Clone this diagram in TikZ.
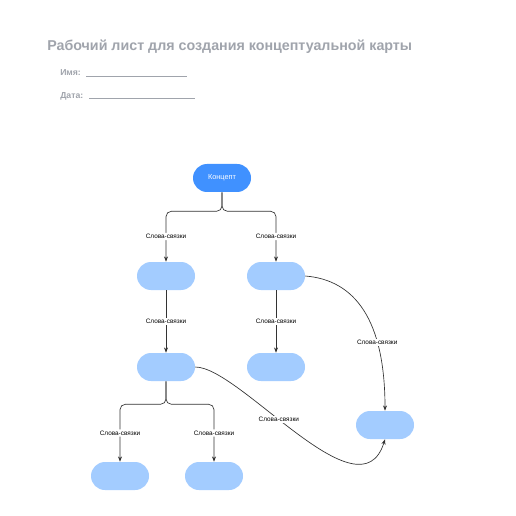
\documentclass[tikz,border=0pt]{standalone}
\usepackage{fontspec}
\setmainfont{Liberation Sans}
\usetikzlibrary{arrows.meta}
\definecolor{cmblue}{RGB}{64,145,255}
\definecolor{cmlight}{RGB}{163,204,255}
\definecolor{cmgray}{RGB}{160,164,172}
\definecolor{cmline}{RGB}{51,51,51}

\tikzset{
  concept/.style={fill=cmblue, rounded corners=10.5pt, minimum width=43.5pt, minimum height=21pt, text=white, font=\fontsize{5.5}{6}\selectfont},
  idea/.style={fill=cmlight, rounded corners=10.5pt, minimum width=43.5pt, minimum height=21pt},
  link/.style={draw=cmline, line width=0.5pt, -{Stealth[length=4pt,width=3pt]}},
  linkword/.style={fill=white, inner sep=1pt, font=\fontsize{4.8}{5}\selectfont}
}

\begin{document}
\begin{tikzpicture}[x=0.75pt, y=-0.75pt]
\useasboundingbox[fill=white] (0,0) rectangle (516,516); %Page
% Header
\node[anchor=west, text=cmgray, font=\bfseries\fontsize{10.7}{12}\selectfont, inner sep=0pt] (title) at (47,47) {Рабочий лист для создания концептуальной карты};
\node[anchor=west, text=cmgray, font=\bfseries\fontsize{6.5}{7}\selectfont, inner sep=0pt] (name) at (60,73) {Имя:};
\node[anchor=west, text=cmgray, font=\bfseries\fontsize{6.5}{7}\selectfont, inner sep=0pt] (date) at (60,96) {Дата:};
\coordinate (nameA) at (86,76); \coordinate (nameB) at (187,76);
\coordinate (dateA) at (89,98); \coordinate (dateB) at (195,98);
\draw[cmgray, line width=0.4pt] (nameA) -- (nameB);
\draw[cmgray, line width=0.4pt] (dateA) -- (dateB);
% Nodes
\node[concept] (top) at (222,178) {Концепт};
\node[idea] (l2a) at (166,276) {};
\node[idea] (l2b) at (276,276) {};
\node[idea] (l3a) at (166,367) {};
\node[idea] (l3b) at (276,367) {};
\node[idea] (side) at (385,425) {};
\node[idea] (l4a) at (120,476) {};
\node[idea] (l4b) at (214,476) {};
% Links
\draw[link, rounded corners=4pt] (top.south) -- ++(0,19) -| node[linkword, pos=0.75] {Слова-связки} (l2a.north);
\draw[link, rounded corners=4pt] (top.south) -- ++(0,19) -| node[linkword, pos=0.75] {Слова-связки} (l2b.north);
\draw[link] (l2a.south) -- node[linkword] {Слова-связки} (l3a.north);
\draw[link] (l2b.south) -- node[linkword] {Слова-связки} (l3b.north);
\draw[link, rounded corners=4pt] (l3a.south) -- ++(0,23) -| node[linkword, pos=0.75] {Слова-связки} (l4a.north);
\draw[link, rounded corners=4pt] (l3a.south) -- ++(0,23) -| node[linkword, pos=0.75] {Слова-связки} (l4b.north);
\draw[link] (l2b.east) .. controls (355,280) and (385,320) .. node[linkword, pos=0.7] {Слова-связки} (side.north);
\draw[link] (l3a.east) .. controls (240,367) and (360,520) .. node[linkword, pos=0.42] {Слова-связки} (side.south);
\end{tikzpicture}
\end{document}
